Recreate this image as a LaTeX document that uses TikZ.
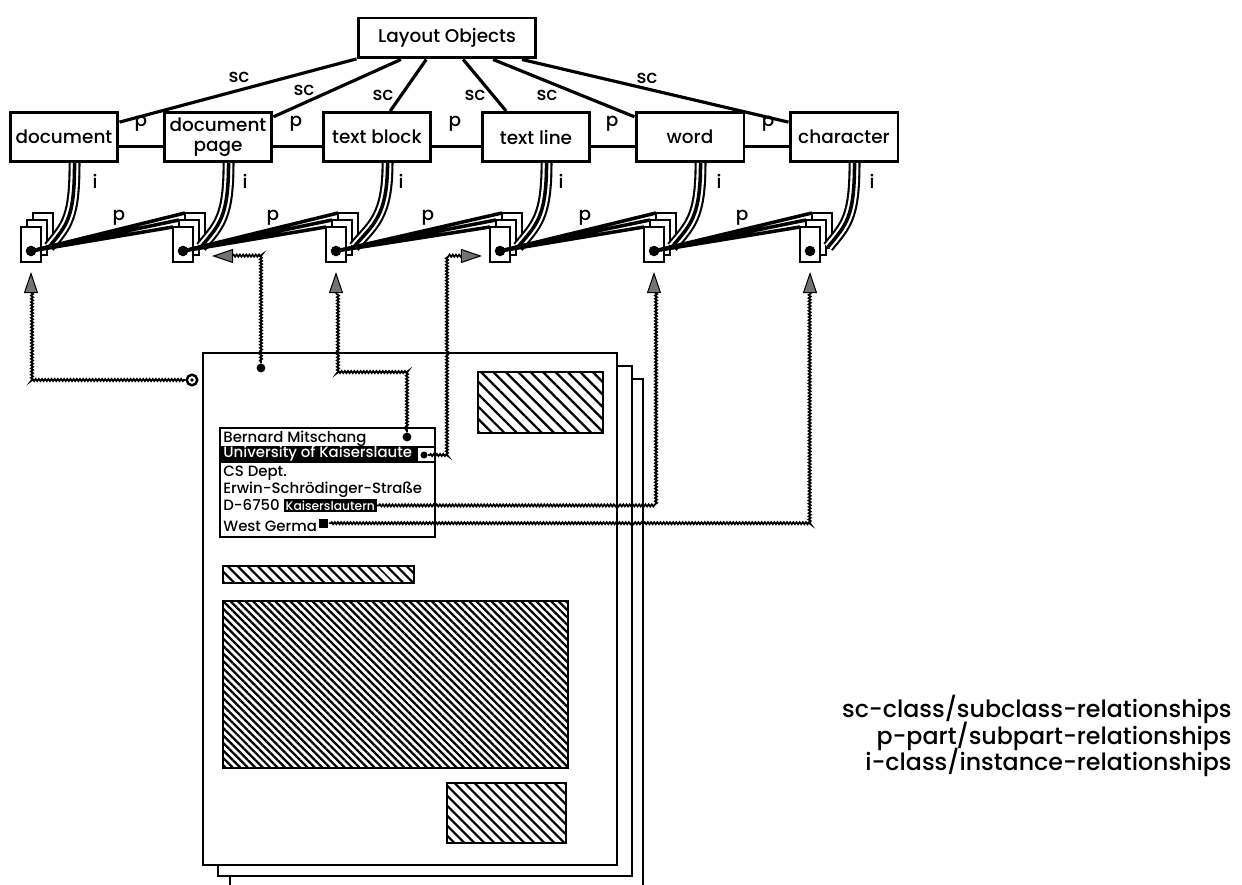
\documentclass[tikz,border=0pt]{standalone}
\usepackage{fontspec}
\setmainfont{Poppins}[UprightFont={* Medium}]
\usetikzlibrary{positioning,calc,patterns.meta,decorations.pathmorphing,arrows.meta}

\begin{document}
\begin{tikzpicture}[x=0.02cm, y=-0.02cm,
    cls/.style={draw, line width=1.7pt, minimum width=2.16cm, minimum height=0.98cm, inner sep=1pt, align=center, font=\fontsize{10.5}{11.5}\selectfont},
    lbl/.style={font=\fontsize{10.5}{11}\selectfont, inner sep=0pt},
    row/.style={anchor=base west, inner sep=0pt, font=\fontsize{8.5}{9}\selectfont},
    link/.style={line width=1.8pt},
    pline/.style={line width=2pt},
    iline/.style={line width=6.8pt, postaction={draw, white, line width=4.4pt}, postaction={draw, black, line width=2pt}},
    ref/.style={line width=1pt, decorate, decoration={snake, amplitude=.6pt, segment length=1.8pt, pre length=1pt, post length=10pt}, -{Triangle[length=12pt, width=8pt, fill=black!55, line width=.6pt]}},
    pagebox/.style={draw, fill=white, line width=1.7pt},
    hatch/.style={draw, line width=1.7pt, pattern={Lines[angle=-45, distance=#1, line width=1.3pt]}},
    dot/.style={circle, fill, inner sep=0pt, minimum size=#1},
    icon/.pic={
      \draw[fill=white, line width=1.3pt] (2,-38) rectangle (22,-3);
      \draw[fill=white, line width=1.3pt] (-4,-31) rectangle (16,4);
      \draw[fill=white, line width=1.6pt] (-10,-24) rectangle (10,11);
      \fill (0,0) circle (3pt);
      \coordinate (-dot) at (0,0);
      \coordinate (-f) at (-10,-24);
      \coordinate (-ba) at (-4,-31);
      \coordinate (-bb) at (2,-38);
      \coordinate (-r) at (18,-4);
    }]
\useasboundingbox (0,0) rectangle (1242,885);

% class hierarchy
\node[cls, minimum width=3.56cm, minimum height=0.8cm] (lo) at (447,38) {Layout Objects};
\node[cls] (cdoc) at (64,137) {document};
\node[cls] (cpage) at (218,137) {document\\page};
\node[cls] (cblock) at (377,137) {text block};
\node[cls] (cline) at (536,137) {text line};
\node[cls] (cword) at (690,137) {word};
\node[cls] (cchar) at (844,137) {character};

\draw[link] (lo.193) -- (cdoc.15);
\draw[link] (lo.205) -- (cpage.20);
\draw[link] (lo.226) -- (cblock.63);
\draw[link] (lo.307) -- (cline.139);
\draw[link] (lo.335) -- (cword.160);
\draw[link] (lo.344) -- (cchar.165);
\node[lbl] at (239,77) {sc};
\node[lbl] at (304,90) {sc};
\node[lbl] at (383,95) {sc};
\node[lbl] at (475,95) {sc};
\node[lbl] at (547,95) {sc};
\node[lbl] at (647,78) {sc};

\draw[link] (cdoc.-10) -- (cpage.190);
\draw[link] (cpage.-10) -- (cblock.190);
\draw[link] (cblock.-10) -- (cline.190);
\draw[link] (cline.-10) -- (cword.190);
\draw[link] (cword.-10) -- (cchar.190);
\node[lbl] at (141,124) {p};
\node[lbl] at (296,124) {p};
\node[lbl] at (455,124) {p};
\node[lbl] at (612,124) {p};
\node[lbl] at (768,124) {p};

% instances
\pic (idoc) at (31,251) {icon};
\pic (ipage) at (183,251) {icon};
\pic (iblock) at (336,251) {icon};
\pic (iline) at (500,251) {icon};
\pic (iword) at (654,251) {icon};
\pic (ichar) at (810,251) {icon};

\draw[iline] ([xshift=6pt]cdoc.south) .. controls +(0,55) and +(18,-22) .. (idoc-r);
\draw[iline] ([xshift=6pt]cpage.south) .. controls +(0,55) and +(18,-22) .. (ipage-r);
\draw[iline] ([xshift=6pt]cblock.south) .. controls +(0,55) and +(18,-22) .. (iblock-r);
\draw[iline] ([xshift=6pt]cline.south) .. controls +(0,55) and +(18,-22) .. (iline-r);
\draw[iline] ([xshift=6pt]cword.south) .. controls +(0,55) and +(18,-22) .. (iword-r);
\draw[iline] ([xshift=6pt]cchar.south) .. controls +(0,55) and +(18,-22) .. (ichar-r);
\node[lbl] at (95,181) {i};
\node[lbl] at (245,181) {i};
\node[lbl] at (401,181) {i};
\node[lbl] at (561,181) {i};
\node[lbl] at (719,181) {i};
\node[lbl] at (872,181) {i};

\draw[pline] (idoc-dot) -- (ipage-f) (idoc-dot) -- (ipage-ba) (idoc-dot) -- (ipage-bb);
\draw[pline] (ipage-dot) -- (iblock-f) (ipage-dot) -- (iblock-ba) (ipage-dot) -- (iblock-bb);
\draw[pline] (iblock-dot) -- (iline-f) (iblock-dot) -- (iline-ba) (iblock-dot) -- (iline-bb);
\draw[pline] (iline-dot) -- (iword-f) (iline-dot) -- (iword-ba) (iline-dot) -- (iword-bb);
\draw[pline] (iword-dot) -- (ichar-f) (iword-dot) -- (ichar-ba) (iword-dot) -- (ichar-bb);
\node[lbl] at (119,218) {p};
\node[lbl] at (273,218) {p};
\node[lbl] at (428,218) {p};
\node[lbl] at (585,218) {p};
\node[lbl] at (742,218) {p};

% the document itself
\draw[line width=1.7pt] (230,885) |- (643,379) -- (643,885);
\draw[pagebox] (218,366) rectangle (632,876);
\draw[pagebox] (203,353) rectangle (617,865);
\draw[hatch=5pt] (478,372) rectangle (603,433);
\draw[hatch=4pt] (223,566) rectangle (414,583);
\draw[hatch=3pt] (223,601) rectangle (568,768);
\draw[hatch=4pt] (447,783) rectangle (566,843);

\draw[line width=1.5pt] (220,428) rectangle (435,537);
\fill (220,447) rectangle (418,462);
\draw[line width=1pt] (220,447) -- (435,447) (220,462) -- (435,462);
\node[row] at (223,442) {Bernard Mitschang};
\node[row, text=white] at (223,458) {University of Kaiserslaute};
\node[row] at (223,477) {CS Dept.};
\node[row] at (223,494) {Erwin-Schrödinger-Straße};
\node[row] (zip) at (223,511) {D-6750};
\node[row, fill=black, text=white, font=\fontsize{7}{8}\selectfont, inner sep=1pt, right=2pt of zip.east, anchor=west] (mword) {Kaiserslautern};
\node[row] (ctry) at (223,531) {West Germa};
\node[fill=black, inner sep=0pt, minimum size=9*0.02cm, right=1pt of ctry.east, anchor=west, yshift=1.5pt] (mchar) {};

\node[dot=5pt] (dpage) at (261,368) {};
\node[dot=5pt] (dblock) at (407,437) {};
\node[dot=4pt] (mline) at (424,455) {};
\node[circle, draw, line width=1.4pt, inner sep=0pt, minimum size=6pt] (rpage) at (192,380) {};
\fill (rpage) circle (1pt);

\coordinate (tdoc) at ($(idoc-dot)+(0,21)$);
\coordinate (tpage) at ($(ipage-dot)+(29,5)$);
\coordinate (tblock) at ($(iblock-dot)+(0,21)$);
\coordinate (tline) at ($(iline-dot)+(-18,5)$);
\coordinate (tword) at ($(iword-dot)+(0,21)$);
\coordinate (tchar) at ($(ichar-dot)+(0,21)$);

\draw[ref] (rpage.west) -| (tdoc);
\draw[ref] (dpage) |- (tpage);
\draw[ref] (dblock) -- ++(0,-65) -| (tblock);
\draw[ref] (mline.east) -- ++(20,0) |- (tline);
\draw[ref] (mword.east) -| (tword);
\draw[ref] (mchar.east) -| (tchar);

% legend
\node[anchor=base east, inner sep=0pt, font=\fontsize{13.5}{15}\selectfont] (leg1) at (1232,717) {sc-class/subclass-relationships};
\node[anchor=base east, inner sep=0pt, font=\fontsize{13.5}{15}\selectfont] (leg2) at (1232,744) {p-part/subpart-relationships};
\node[anchor=base east, inner sep=0pt, font=\fontsize{13.5}{15}\selectfont] (leg3) at (1232,770) {i-class/instance-relationships};
\end{tikzpicture}
\end{document}
